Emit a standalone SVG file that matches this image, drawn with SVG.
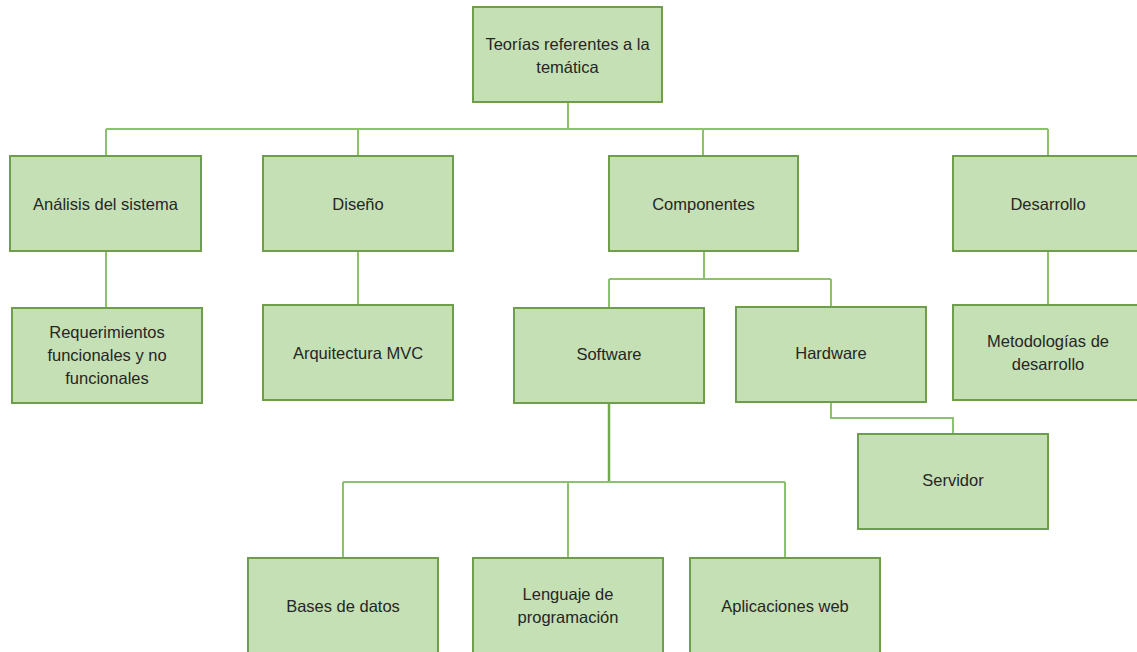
<svg xmlns="http://www.w3.org/2000/svg" width="1137" height="652" viewBox="0 0 1137 652">
<style>
.box{fill:#C5E0B4;stroke:#6E9E4C;stroke-width:2}
.t{font-family:"Liberation Sans",Arial,sans-serif;font-size:16.5px;fill:#262626;text-anchor:middle;dominant-baseline:central}
.c{fill:none;stroke:#8DC26C;stroke-width:2}
.cd{fill:none;stroke:#72A94E;stroke-width:2.5}
</style>
<rect width="1137" height="652" fill="#ffffff"/>
<g id="connectors">
<path class="c" d="M568 102V129M106 129H1048M106 129V156M358 129V156M703 129V156M1048 129V156"/>
<path class="c" d="M106 251V308M358 251V305M1048 251V305"/>
<path class="c" d="M704 251V279M609 279H831M609 279V308M831 279V307"/>
<path class="c" d="M831 402V418H953V434"/>
<path class="cd" d="M609 403V482"/>
<path class="c" d="M343 482H785M343 482V558M568 482V558M785 482V558"/>
</g>
<g id="root"><rect class="box" x="473" y="7" width="189" height="95"/><text class="t" x="567.5" y="44">Teorías referentes a la</text><text class="t" x="567.5" y="67">temática</text></g>
<g id="analisis"><rect class="box" x="10" y="156" width="191" height="95"/><text class="t" x="105.5" y="203.5">Análisis del sistema</text></g>
<g id="diseno"><rect class="box" x="263" y="156" width="190" height="95"/><text class="t" x="358" y="203.5">Diseño</text></g>
<g id="componentes"><rect class="box" x="609" y="156" width="189" height="95"/><text class="t" x="703.5" y="203.5">Componentes</text></g>
<g id="desarrollo"><rect class="box" x="953" y="156" width="190" height="95"/><text class="t" x="1048" y="203.5">Desarrollo</text></g>
<g id="requerimientos"><rect class="box" x="12" y="308" width="190" height="95"/><text class="t" x="107" y="332">Requerimientos</text><text class="t" x="107" y="355">funcionales y no</text><text class="t" x="107" y="378">funcionales</text></g>
<g id="arquitectura"><rect class="box" x="263" y="305" width="190" height="95"/><text class="t" x="358" y="352.5">Arquitectura MVC</text></g>
<g id="software"><rect class="box" x="514" y="308" width="190" height="95"/><text class="t" x="609" y="354">Software</text></g>
<g id="hardware"><rect class="box" x="736" y="307" width="190" height="95"/><text class="t" x="831" y="352.5">Hardware</text></g>
<g id="metodologias"><rect class="box" x="953" y="305" width="190" height="95"/><text class="t" x="1048" y="341">Metodologías de</text><text class="t" x="1048" y="364">desarrollo</text></g>
<g id="servidor"><rect class="box" x="858" y="434" width="190" height="95"/><text class="t" x="953" y="480">Servidor</text></g>
<g id="bases"><rect class="box" x="248" y="558" width="190" height="95"/><text class="t" x="343" y="606">Bases de datos</text></g>
<g id="lenguaje"><rect class="box" x="473" y="558" width="190" height="95"/><text class="t" x="568" y="594">Lenguaje de</text><text class="t" x="568" y="617">programación</text></g>
<g id="aplicaciones"><rect class="box" x="690" y="558" width="190" height="95"/><text class="t" x="785" y="606">Aplicaciones web</text></g>
</svg>
